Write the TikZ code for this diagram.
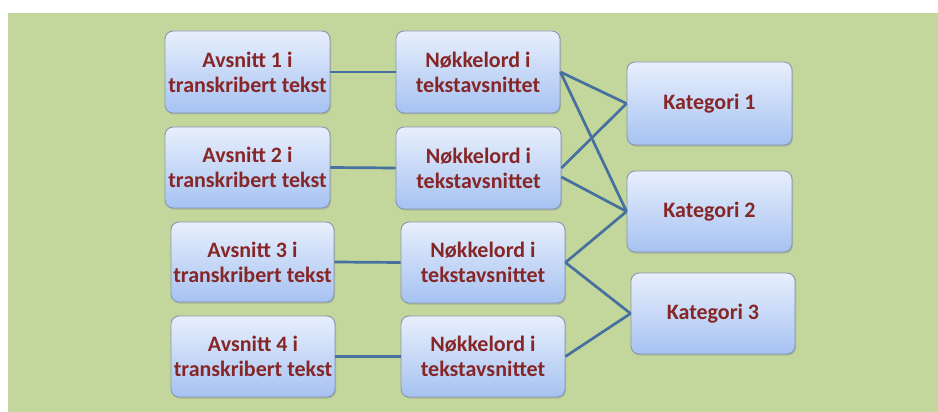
\documentclass[tikz,border=0pt]{standalone}
\usepackage{fontspec}
\setmainfont{Carlito}
\usetikzlibrary{shadows}
\definecolor{bggreen}{HTML}{C3D69B}
\definecolor{boxtop}{HTML}{E8EFFC}
\definecolor{boxbot}{HTML}{A6C2F2}
\definecolor{boxline}{HTML}{8597B5}
\definecolor{txtred}{HTML}{862626}
\definecolor{linkblue}{HTML}{4670A0}
\tikzset{
  box/.style={rectangle, rounded corners=8pt, draw=boxline, line width=0.9pt,
    top color=boxtop, bottom color=boxbot,
    drop shadow={shadow xshift=1pt, shadow yshift=-1.5pt, opacity=0.35},
    text=txtred, font=\fontsize{22}{25}\selectfont\bfseries, align=center,
    inner sep=0pt},
  link/.style={draw=linkblue, line width=2.7pt}
}
\begin{document}
\begin{tikzpicture}[x=1pt,y=-1pt]
\useasboundingbox (0,0) rectangle (938,412);
\fill[white] (0,0) rectangle (938,412);
\fill[bggreen] (8,13) rectangle (938,412);
% left column
\node[box, minimum width=165pt, minimum height=82pt] (A1) at (247.5,72) {Avsnitt 1 i\\transkribert tekst};
\node[box, minimum width=165pt, minimum height=81pt] (A2) at (247.5,167.5) {Avsnitt 2 i\\transkribert tekst};
\node[box, minimum width=163pt, minimum height=80pt] (A3) at (252.5,262) {Avsnitt 3 i\\transkribert tekst};
\node[box, minimum width=164pt, minimum height=81pt] (A4) at (253,356.5) {Avsnitt 4 i\\transkribert tekst};
% middle column
\node[box, minimum width=164pt, minimum height=82pt] (N1) at (478,72) {Nøkkelord i\\tekstavsnittet};
\node[box, minimum width=165pt, minimum height=82pt] (N2) at (478.5,168) {Nøkkelord i\\tekstavsnittet};
\node[box, minimum width=164pt, minimum height=81pt] (N3) at (483,262.5) {Nøkkelord i\\tekstavsnittet};
\node[box, minimum width=164pt, minimum height=81pt] (N4) at (483,356.5) {Nøkkelord i\\tekstavsnittet};
% right column
\node[box, minimum width=165pt, minimum height=83pt] (K1) at (709.5,103.5) {Kategori 1};
\node[box, minimum width=165pt, minimum height=81pt] (K2) at (709.5,211.5) {Kategori 2};
\node[box, minimum width=164pt, minimum height=81pt] (K3) at (713,313.5) {Kategori 3};
% connectors
\path[link] (A1.east) -- (N1.west);
\path[link] (A2.east) -- (N2.west);
\path[link] (A3.east) -- (N3.west);
\path[link] (A4.east) -- (N4.west);
\path[link] (N1.east) -- (K1.west);
\path[link] (N1.east) -- (K2.west);
\path[link] (N2.east) -- (K1.west);
\path[link] ([yshift=-9pt]N2.east) -- (K2.west);
\path[link] (N3.east) -- (K2.west);
\path[link] (N3.east) -- (K3.west);
\path[link] (N4.east) -- (K3.west);
\end{tikzpicture}
\end{document}
